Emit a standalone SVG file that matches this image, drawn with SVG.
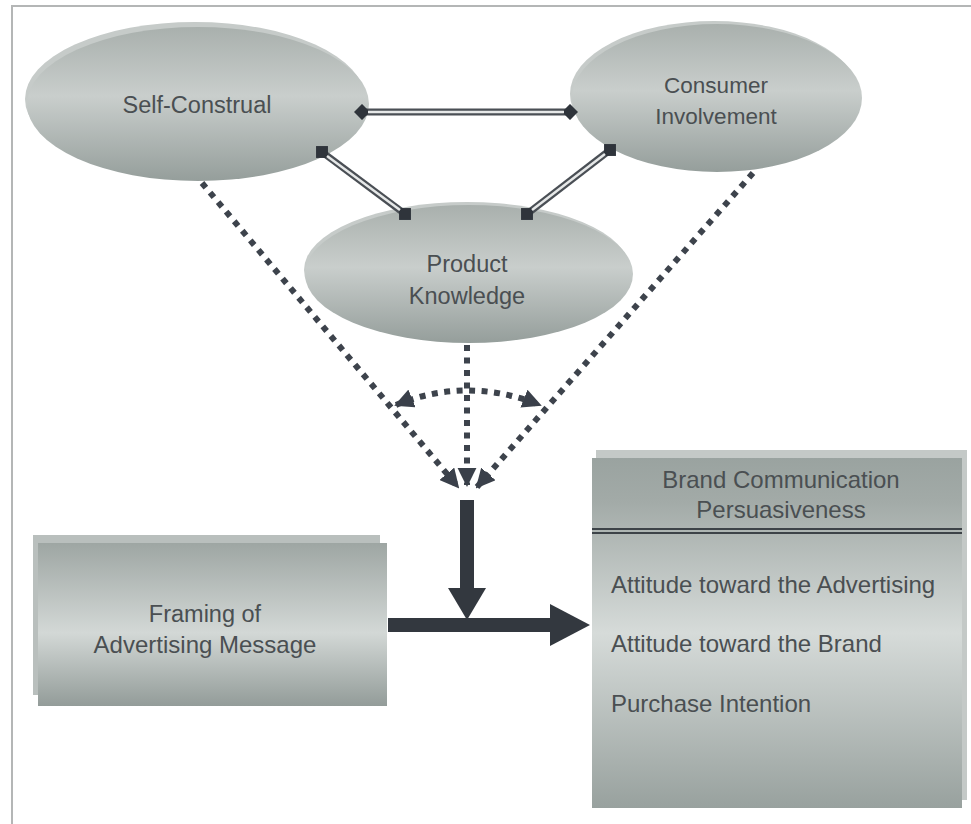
<svg xmlns="http://www.w3.org/2000/svg" width="971" height="824" viewBox="0 0 971 824">
<defs>
<linearGradient id="gEll" x1="0" y1="0" x2="0" y2="1">
<stop offset="0" stop-color="#a9b0ad"/>
<stop offset="0.45" stop-color="#c9cecc"/>
<stop offset="1" stop-color="#959e9b"/>
</linearGradient>
<linearGradient id="gBox" x1="0" y1="0" x2="0" y2="1">
<stop offset="0" stop-color="#9ea6a3"/>
<stop offset="0.55" stop-color="#d3d8d6"/>
<stop offset="1" stop-color="#939c99"/>
</linearGradient>
<linearGradient id="gBrand" x1="0" y1="0" x2="0" y2="1">
<stop offset="0" stop-color="#9aa3a0"/>
<stop offset="0.12" stop-color="#a2aaa7"/>
<stop offset="0.5" stop-color="#d6dbd9"/>
<stop offset="1" stop-color="#98a19e"/>
</linearGradient>
<marker id="arrS" viewBox="0 0 10 10" refX="9" refY="5" markerWidth="3.2" markerHeight="3.2" orient="auto-start-reverse" markerUnits="strokeWidth">
<path d="M0,0 L10,5 L0,10 z" fill="#3a404a"/>
</marker>
<marker id="diam" viewBox="0 0 10 10" refX="5" refY="5" markerWidth="2.3" markerHeight="2.3" orient="auto" markerUnits="strokeWidth">
<path d="M0,5 L5,0 L10,5 L5,10 z" fill="#2f343b"/>
</marker>
<marker id="sq" viewBox="0 0 10 10" refX="5" refY="5" markerWidth="1.7" markerHeight="1.7" orient="0" markerUnits="strokeWidth">
<rect x="0" y="0" width="10" height="10" fill="#2f343b"/>
</marker>
</defs>
<style>
.lbl{font-family:"Liberation Sans",Arial,sans-serif;font-size:22.5px;fill:#4a4f52;text-anchor:middle}
.lbl2{font-family:"Liberation Sans",Arial,sans-serif;font-size:23.5px;fill:#4a4f52;text-anchor:middle}
.item{font-family:"Liberation Sans",Arial,sans-serif;font-size:24px;fill:#4a4f52}
.dot{fill:none;stroke:#3d434c;stroke-width:6;stroke-dasharray:6 6.5}
.dbl{fill:none;stroke:#4a4f55;stroke-width:7}
.dblin{fill:none;stroke:#e6e8e8;stroke-width:2.5}
.thick{fill:none;stroke:#33383f;stroke-width:14}
.frame{fill:none;stroke:#b4b6b6;stroke-width:2}
</style>
<rect x="0" y="0" width="971" height="824" fill="#ffffff"/>
<path class="frame" d="M12,824 L12,6 L971,6"/>

<g id="self-construal">
<ellipse cx="195" cy="99" rx="170" ry="77" fill="#c6cbc9"/>
<ellipse cx="198" cy="104" rx="171" ry="77" fill="url(#gEll)"/>
<text class="lbl" x="197" y="113" style="font-size:23.5px">Self-Construal</text>
</g>
<g id="consumer-involvement">
<ellipse cx="714" cy="94" rx="144" ry="73" fill="#c6cbc9"/>
<ellipse cx="717" cy="98" rx="145" ry="74" fill="url(#gEll)"/>
<text class="lbl" x="716" y="93">Consumer</text>
<text class="lbl" x="716" y="124">Involvement</text>
</g>
<g id="product-knowledge">
<ellipse cx="467" cy="270" rx="163" ry="68" fill="#c6cbc9"/>
<ellipse cx="469" cy="274" rx="164" ry="69" fill="url(#gEll)"/>
<text class="lbl2" x="467" y="272">Product</text>
<text class="lbl2" x="467" y="304">Knowledge</text>
</g>
<g id="framing">
<rect x="33" y="535" width="347" height="160" fill="#b9bfbd"/>
<rect x="38" y="543" width="349" height="163" fill="url(#gBox)"/>
<text class="lbl2" x="205" y="622">Framing of</text>
<text class="lbl2" x="205" y="653" style="font-size:24px">Advertising Message</text>
</g>
<g id="brand">
<rect x="596" y="450" width="371" height="350" fill="#c4c9c7"/>
<rect x="592" y="458" width="370" height="350" fill="url(#gBrand)"/>
<text class="lbl2" x="781" y="488" style="font-size:24px">Brand Communication</text>
<text class="lbl2" x="781" y="518" style="font-size:24px">Persuasiveness</text>
<line x1="592" y1="529" x2="962" y2="529" stroke="#3d4348" stroke-width="2"/>
<line x1="592" y1="533" x2="962" y2="533" stroke="#3d4348" stroke-width="2"/>
<text class="item" x="611" y="593">Attitude toward the Advertising</text>
<text class="item" x="611" y="652">Attitude toward the Brand</text>
<text class="item" x="611" y="712">Purchase Intention</text>
</g>

<g id="connectors">
<path class="dbl" d="M362,112 L570,112" marker-start="url(#diam)" marker-end="url(#diam)"/>
<path class="dblin" d="M368,112 L564,112"/>
<path class="dbl" d="M322,152 L405,214" marker-start="url(#sq)" marker-end="url(#sq)"/>
<path class="dblin" d="M327,156 L400,210"/>
<path class="dbl" d="M610,150 L527,214" marker-start="url(#sq)" marker-end="url(#sq)"/>
<path class="dblin" d="M605,154 L532,210"/>

<path class="dot" d="M202,183 L458,487" marker-end="url(#arrS)"/>
<path class="dot" d="M753,173 L477,487" marker-end="url(#arrS)"/>
<path class="dot" d="M467,345 L467,485" marker-end="url(#arrS)"/>
<path class="dot" d="M396,405 Q467,376 540,405" marker-start="url(#arrS)" marker-end="url(#arrS)"/>

<path class="thick" d="M467,500 L467,592"/>
<path d="M448,588 L486,588 L467,620 z" fill="#33383f"/>
<path class="thick" d="M388,625 L552,625"/>
<path d="M550,604 L590,625 L550,646 z" fill="#33383f"/>
</g>
</svg>
